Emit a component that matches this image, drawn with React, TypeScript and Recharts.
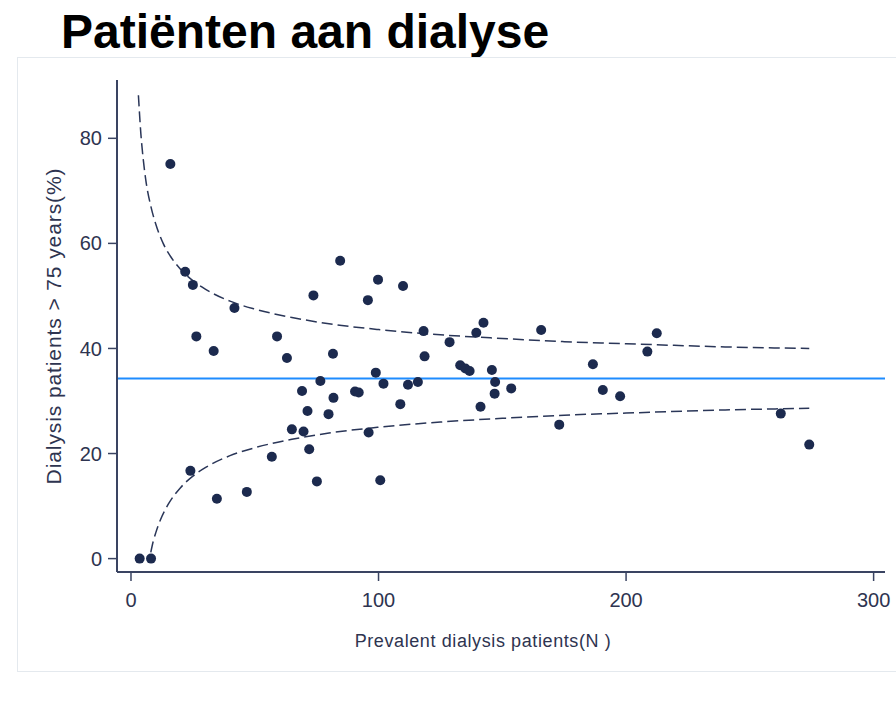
import React from 'react';
import {
  ComposedChart, Scatter, Line, XAxis, YAxis, ReferenceLine
} from 'recharts';

// centres: prevalent dialysis patients (N) and share aged > 75 (%)
const centreN = [
  3.5, 8.1, 15.9, 21.9, 25.0, 24.0, 26.4, 33.4, 34.7, 41.8,
  46.8, 56.9, 59.0, 63.0, 65.0, 69.1, 69.7, 71.3, 72.0, 73.7,
  75.1, 76.5, 79.8, 81.6, 81.8, 84.5, 90.5, 92.0, 95.7, 96.0,
  98.9, 99.8, 100.7, 102.0, 108.8, 109.9, 111.9, 115.9, 118.2, 118.6,
  128.7, 133.0, 135.1, 136.8, 139.5, 141.2, 142.4, 145.8, 147.1, 146.9,
  153.6, 165.7, 173.0, 186.6, 190.6, 197.6, 208.6, 212.4, 262.5, 274.0,
];
const centrePct = [
  0, 0, 75.1, 54.6, 52.1, 16.7, 42.3, 39.5, 11.4, 47.7,
  12.7, 19.4, 42.3, 38.2, 24.6, 31.9, 24.2, 28.1, 20.8, 50.1,
  14.7, 33.8, 27.5, 39.0, 30.6, 56.7, 31.8, 31.6, 49.2, 24.0,
  35.4, 53.1, 14.9, 33.3, 29.4, 51.9, 33.1, 33.6, 43.3, 38.5,
  41.2, 36.8, 36.2, 35.7, 43.0, 28.9, 44.9, 35.9, 33.6, 31.4,
  32.4, 43.5, 25.5, 37.0, 32.1, 30.9, 39.4, 42.9, 27.6, 21.7,
];

// funnel limits
const upperN = [3, 4, 5, 6, 8, 10, 13, 16, 20, 25, 30, 40, 50, 65, 80, 100, 125, 150, 175, 200, 240, 274];
const upperPct = [88.2, 80.8, 75.8, 72.0, 67.1, 63.7, 60.0, 57.5, 55.1, 52.9, 51.3, 49.0, 47.5, 45.9, 44.7, 43.6, 42.6, 41.9, 41.3, 40.9, 40.3, 40.0];
const lowerN = [8, 9, 10, 12, 15, 20, 25, 30, 40, 50, 65, 80, 100, 125, 150, 175, 200, 240, 274];
const lowerPct = [1.2, 3.3, 4.9, 7.5, 10.3, 13.5, 15.7, 17.3, 19.6, 21.1, 22.7, 23.9, 25.0, 26.0, 26.7, 27.3, 27.7, 28.3, 28.6];

const meanPct = 34.3;
const xTicks = [0, 100, 200, 300];
const yTicks = [0, 20, 40, 60, 80];

const INK = '#1c2a4e';
const AXIS = '#3a4462';
const TEXT = '#2e3450';
const FONT = "'Liberation Sans', Arial, sans-serif";

const dot = (p: any) => <circle cx={p.cx} cy={p.cy} r={5} fill={INK} />;

export default function App() {
  const points = centreN.map((n, i) => ({ n, v: centrePct[i] }));
  const upper = upperN.map((n, i) => ({ n, v: upperPct[i] }));
  const lower = lowerN.map((n, i) => ({ n, v: lowerPct[i] }));

  const tickStyle = { fill: TEXT, fontSize: 20, fontFamily: FONT };

  return (
    <div style={{ position: 'fixed', left: 0, top: 0, width: 896, height: 701, background: '#fff', overflow: 'hidden' }}>
      <div style={{
        position: 'absolute', left: 61, top: 8, fontFamily: FONT, fontWeight: 700,
        fontSize: 48, lineHeight: 1, color: '#000', whiteSpace: 'nowrap'
      }}>
        Patiënten aan dialyse
      </div>
      <div style={{
        position: 'absolute', left: 17, top: 57, width: 879, height: 615,
        boxSizing: 'border-box', border: '1px solid #e4e9ee', borderRight: 'none'
      }} />
      <div style={{ position: 'absolute', left: 0, top: 0 }}>
        <ComposedChart width={896} height={701} margin={{ top: 80, right: 11, bottom: 0, left: 0 }}>
          <XAxis
            type="number" dataKey="n" domain={[-5.65, 304.6]} ticks={xTicks}
            allowDataOverflow height={129}
            axisLine={{ stroke: AXIS, strokeWidth: 2 }}
            tickLine={{ stroke: AXIS, strokeWidth: 1.5 }}
            tickSize={9} tickMargin={12} tick={tickStyle}
            label={() => (
              <text x={483} y={647} textAnchor="middle" fill={TEXT}
                fontSize={18} fontFamily={FONT} letterSpacing={0.6}>
                Prevalent dialysis patients(N )
              </text>
            )}
          />
          <YAxis
            type="number" domain={[-2.55, 91.1]} ticks={yTicks}
            allowDataOverflow width={117}
            axisLine={{ stroke: AXIS, strokeWidth: 2 }}
            tickLine={{ stroke: AXIS, strokeWidth: 1.5 }}
            tickSize={9} tickMargin={6} tick={tickStyle}
            label={() => (
              <text x={61} y={326} textAnchor="middle" fill={TEXT}
                fontSize={21} fontFamily={FONT} letterSpacing={0.9}
                transform="rotate(-90 61 326)">
                Dialysis patients &gt; 75 years(%)
              </text>
            )}
          />
          <ReferenceLine y={meanPct} stroke="#1e8cff" strokeWidth={2} ifOverflow="hidden" />
          <Line data={upper} dataKey="v" type="monotone" stroke="#2a3658" strokeWidth={1.5}
            strokeDasharray="11 5" dot={false} activeDot={false} isAnimationActive={false} />
          <Line data={lower} dataKey="v" type="monotone" stroke="#2a3658" strokeWidth={1.5}
            strokeDasharray="11 5" dot={false} activeDot={false} isAnimationActive={false} />
          <Scatter data={points} dataKey="v" shape={dot} isAnimationActive={false} />
        </ComposedChart>
      </div>
    </div>
  );
}
